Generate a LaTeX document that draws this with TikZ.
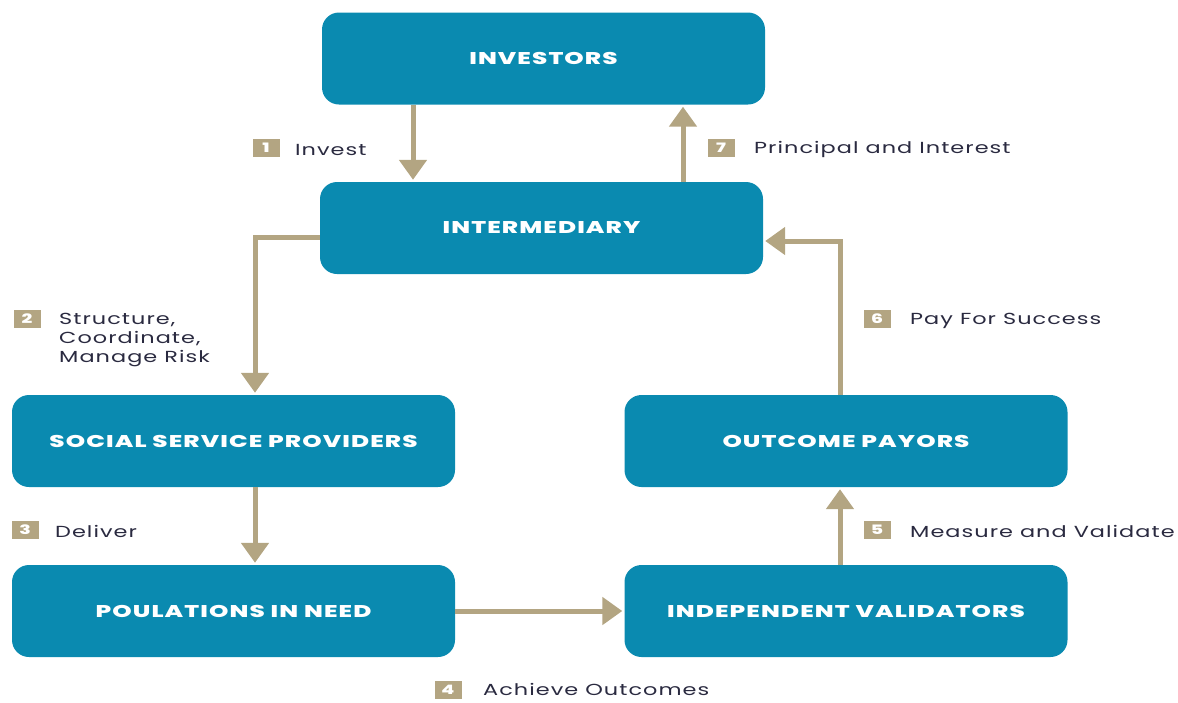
\documentclass[tikz,border=0pt]{standalone}
\usepackage{fontspec}
\setmainfont{Poppins}
\newfontfamily\stagefont[FakeStretch=1.45, LetterSpace=6.5, BoldFont={Poppins ExtraBold}]{Poppins}
\newfontfamily\notefont[FakeStretch=1.4, LetterSpace=6.5]{Poppins}
\usetikzlibrary{arrows.meta}
\definecolor{boxteal}{HTML}{0A8AB0}
\definecolor{flowtan}{HTML}{B3A582}
\definecolor{labelink}{HTML}{2A2A40}
\tikzset{
  stage/.style={draw=none, fill=boxteal, rounded corners=17pt, minimum width=443pt,
    minimum height=92pt, text=white, font=\stagefont\fontsize{17}{18}\selectfont\bfseries},
  flow/.style={draw=flowtan, line width=5pt,
    -{Triangle[width=27pt,length=20pt]}, shorten >=2pt},
  badge/.style={fill=flowtan, text=white, minimum width=27pt, minimum height=18pt,
    inner sep=0pt, font=\stagefont\fontsize{13}{13}\selectfont\bfseries},
  steptext/.style={anchor=west, text=labelink, inner sep=0pt, yshift=-1.5pt,
    font=\notefont\fontsize{16}{19}\selectfont, align=left}
}
\begin{document}
\begin{tikzpicture}[x=1pt,y=-1pt]
\useasboundingbox (0,0) rectangle (1178,702);

% stage boxes
\node[stage] (inv) at (543.5,58.5)  {INVESTORS};
\node[stage] (int) at (541.5,228)   {INTERMEDIARY};
\node[stage] (ssp) at (233.5,441)   {SOCIAL SERVICE PROVIDERS};
\node[stage] (op)  at (846,441)     {OUTCOME PAYORS};
\node[stage] (pin) at (233.5,611)   {POULATIONS IN NEED};
\node[stage] (iv)  at (846,611)     {INDEPENDENT VALIDATORS};

% columns and rows of the connectors
\coordinate (xa) at (413,0);
\coordinate (xb) at (683,0);
\coordinate (xc) at (255,0);
\coordinate (xd) at (840,0);
\coordinate (ya) at (0,237);
\coordinate (yb) at (0,241);

% money and service flows
\draw[flow] (inv.south -| xa) -- (int.north -| xa);
\draw[flow] (int.north -| xb) -- (inv.south -| xb);
\draw[flow] (int.west |- ya) -| (ssp.north -| xc);
\draw[flow] (ssp.south -| xc) -- (pin.north -| xc);
\draw[flow] (pin.east) -- (iv.west);
\draw[flow] (iv.north -| xd) -- (op.south -| xd);
\draw[flow] (op.north -| xd) |- (int.east |- yb);

% numbered steps
\node[badge] (b1) at (266,148) {1};
\node[steptext] (t1) at (295,148) {Invest};
\node[badge] (b7) at (721,148) {7};
\node[steptext] (t7) at (754,148) {Principal and Interest};
\node[badge] (b2) at (27,319) {2};
\node[steptext, anchor=north west] (t2) at (59,311) {Structure,\\Coordinate,\\Manage Risk};
\node[badge] (b3) at (25,530) {3};
\node[steptext] (t3) at (55,530) {Deliver};
\node[badge] (b6) at (877,319) {6};
\node[steptext] (t6) at (910,319) {Pay For Success};
\node[badge] (b5) at (877,530) {5};
\node[steptext] (t5) at (910,530) {Measure and Validate};
\node[badge] (b4) at (448,690) {4};
\node[steptext, yshift=1.5pt] (t4) at (483,689) {Achieve Outcomes};
\end{tikzpicture}
\end{document}
